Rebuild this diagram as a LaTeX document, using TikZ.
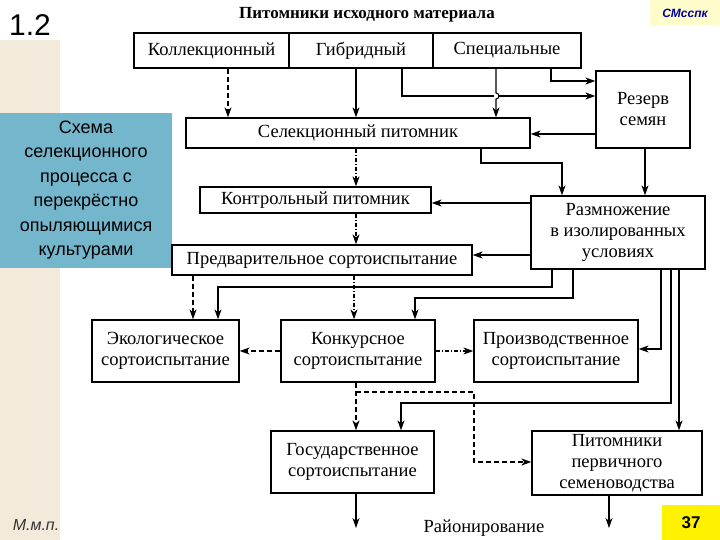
\documentclass[tikz,border=0pt]{standalone}
\usepackage{fontspec}
\setmainfont{Liberation Serif}
\newfontfamily\sans{Liberation Sans}
\usetikzlibrary{arrows.meta}
\definecolor{cream}{HTML}{F2EBDB}
\definecolor{sideblue}{HTML}{74B6CC}
\begin{document}
\begin{tikzpicture}[x=1pt,y=-1pt,
  box/.style={draw,line width=1.3pt,inner sep=0pt,align=center,font=\fontsize{18.5}{21}\selectfont},
  ar/.style={line width=1.1pt,-{Stealth[length=10pt,width=7pt,inset=3pt]}},
  dsh/.style={ar,dash pattern=on 5pt off 3pt},
  dd/.style={ar,dash pattern=on 4pt off 2pt on 1pt off 2pt}]
\useasboundingbox (0,0) rectangle (720,540);
\fill[white] (0,0) rectangle (720,540);
\fill[cream] (0,40) rectangle (60,540);
\fill[sideblue] (0,113) rectangle (172,268);
\node[font=\sans\fontsize{30}{32}\selectfont] (num) at (30,25) {1.2};
\node[align=center,font=\sans\fontsize{18}{24.5}\selectfont] (side) at (86,190) {Схема\\селекционного\\процесса с\\перекрёстно\\опыляющимися\\культурами};
\fill[yellow!20] (650,0) rectangle (720,25);
\node[font=\sans\itshape\bfseries\fontsize{12}{13}\selectfont,text=blue!60!black] (sm) at (685,13) {СМсспк};
\fill[yellow] (662,505) rectangle (720,540);
\node[font=\sans\bfseries\fontsize{17}{18}\selectfont] (p37) at (691,523) {37};
\node[font=\sans\itshape\fontsize{16}{18}\selectfont,text=black!80] (mmp) at (36,525) {М.м.п.};
\node[font=\bfseries\fontsize{17}{19}\selectfont] (title) at (367,15) {Питомники исходного материала};
% boxes
\node[box,minimum width=155pt,minimum height=35pt] (kol) at (211.5,50.5) {Коллекционный};
\node[box,minimum width=144pt,minimum height=35pt] (gib) at (361,50.5) {Гибридный};
\node[box,minimum width=148pt,minimum height=35pt] (spe) at (507,50.5) {Специальные};
\node[box,minimum width=94pt,minimum height=77pt] (rez) at (643,109.5) {Резерв\\семян};
\node[box,minimum width=344pt,minimum height=30pt] (sel) at (358,133) {Селекционный питомник};
\node[box,minimum width=231pt,minimum height=26pt] (kon) at (315.5,200) {Контрольный питомник};
\node[box,minimum width=174pt,minimum height=73pt] (raz) at (618,232.5) {Размножение\\в изолированных\\условиях};
\node[box,minimum width=300pt,minimum height=30pt] (pre) at (322,260) {Предварительное сортоиспытание};
\node[box,minimum width=147pt,minimum height=62pt] (eko) at (165.5,351) {Экологическое\\сортоиспытание};
\node[box,minimum width=154pt,minimum height=62pt] (kk) at (358,351) {Конкурсное\\сортоиспытание};
\node[box,minimum width=164pt,minimum height=62pt] (pro) at (556,351) {Производственное\\сортоиспытание};
\node[box,minimum width=163pt,minimum height=62pt] (gos) at (352.5,462) {Государственное\\сортоиспытание};
\node[box,minimum width=170pt,minimum height=64pt] (pit) at (617,463) {Питомники\\первичного\\семеноводства};
\node[font=\fontsize{18.5}{20}\selectfont] (rai) at (484,528) {Районирование};
\coordinate (e1) at (356,528);
\coordinate (e2) at (609,528);
% connectors
\draw[dsh] (kol.south -| 228,0) -- (sel.north -| 228,0);
\draw[ar] (gib.south -| 356,0) -- (sel.north -| 356,0);
\draw[ar] (spe.south -| 551,0) |- (rez.west |- 0,81);
\draw[ar] (gib.south -| 402,0) |- (rez.west |- 0,96);
\draw[white,line width=4pt] (496,92) -- (496,100);
\draw[ar] (spe.south -| 496,0) -- (496,93) arc[start angle=90,end angle=-90,radius=3pt] -- (sel.north -| 496,0);
\draw[ar] (rez.west |- 0,134) -- (sel.east |- 0,134);
\draw[ar] (rez.south -| 645,0) -- (raz.north -| 645,0);
\draw[ar] (sel.south -| 481,0) -- (481,163) -| (raz.north -| 562,0);
\draw[dd] (sel.south -| 356,0) -- (kon.north -| 356,0);
\draw[dd] (kon.south -| 356,0) -- (pre.north -| 356,0);
\draw[ar] (raz.west |- 0,203) -- (kon.east |- 0,203);
\draw[ar] (raz.west |- 0,255) -- (pre.east |- 0,255);
\draw[dsh] (pre.south -| 193,0) -- (eko.north -| 193,0);
\draw[dd] (pre.south -| 354,0) -- (kk.north -| 354,0);
\draw[ar] (raz.south -| 552,0) |- (218,287) -- (eko.north -| 218,0);
\draw[ar] (raz.south -| 573,0) |- (415,298) -- (kk.north -| 415,0);
\draw[ar] (raz.south -| 661,0) |- (pro.east |- 0,349);
\draw[ar] (raz.south -| 671,0) |- (401,403) -- (gos.north -| 401,0);
\draw[ar] (raz.south -| 679,0) -- (pit.north -| 679,0);
\draw[dsh] (kk.west) -- (eko.east);
\draw[dd] (kk.east) -- (pro.west);
\draw[dsh] (kk.south -| 356,0) -- (gos.north -| 356,0);
\draw[dsh] (356,392) -- (474,392) |- (pit.west |- 0,462);
\draw[ar] (gos.south -| 356,0) -- (e1);
\draw[ar] (pit.south -| 609,0) -- (e2);
\end{tikzpicture}
\end{document}
